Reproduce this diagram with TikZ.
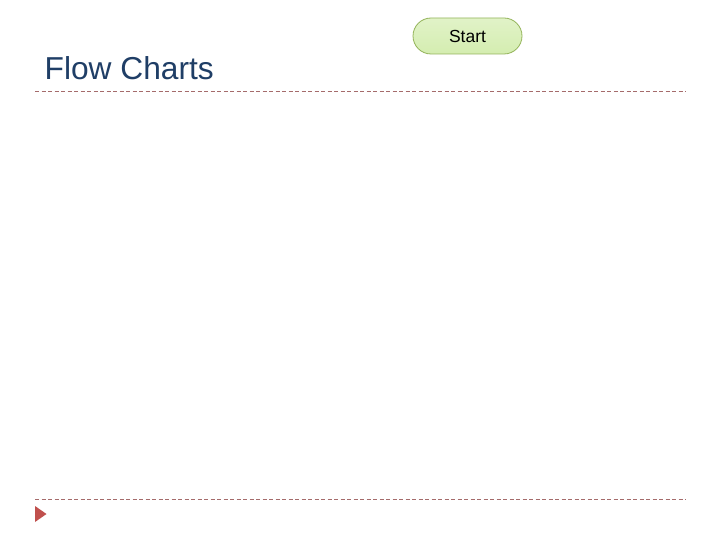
\documentclass[tikz,border=0pt]{standalone}
\usepackage{fontspec}
\setmainfont{Liberation Sans}
\usetikzlibrary{shapes.misc}
\definecolor{titleblue}{HTML}{1F3E66}
\definecolor{rulered}{HTML}{A56B6B}
\definecolor{startfill}{HTML}{D4EDB0}
\definecolor{startborder}{HTML}{94B45A}
\definecolor{bullred}{HTML}{C0504D}
\tikzset{
  rulestyle/.style={rulered, line width=0.8pt, dash pattern=on 4pt off 2.5pt},
  terminal/.style={rounded rectangle, draw=startborder, line width=0.8pt, top color=startfill!70!white, bottom color=startfill, minimum width=109pt, minimum height=36pt, inner sep=0pt, font=\fontsize{17.5pt}{20pt}\selectfont}
}
\begin{document}
\begin{tikzpicture}[x=1pt,y=-1pt]
\useasboundingbox (0,0) rectangle (720,540);
\fill[white] (0,0) rectangle (720,540);
\node[terminal] (start) at (467.5,36) {Start};
\node[anchor=base west, inner sep=0pt, text=titleblue, font=\fontsize{31.7pt}{36pt}\selectfont] (title) at (44.5,80) {Flow Charts};
\coordinate (r1a) at (35,91);
\coordinate (r1b) at (686,91);
\coordinate (r2a) at (35,499.5);
\coordinate (r2b) at (686,499.5);
\draw[rulestyle] (r1a) -- (r1b);
\draw[rulestyle] (r2a) -- (r2b);
\fill[bullred] (35,506) -- (46.5,514) -- (35,522) -- cycle;
\end{tikzpicture}
\end{document}
